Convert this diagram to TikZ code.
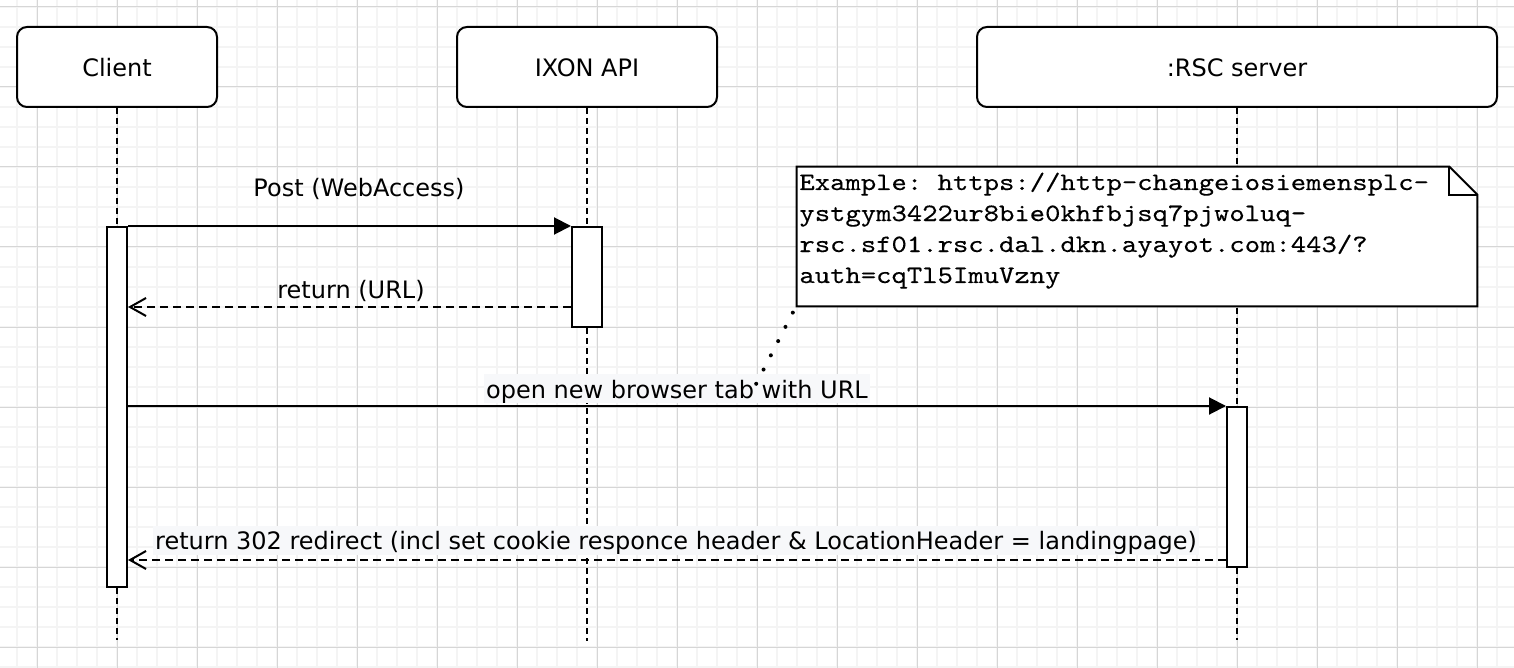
\documentclass[tikz,border=0pt]{standalone}
\usepackage{fontspec}
\setmainfont{DejaVu Sans}
\newfontfamily\notefont{lmmono10-regular.otf}[FakeStretch=1.17,FakeBold=0.25]
\usetikzlibrary{arrows.meta}
\definecolor{gridminor}{HTML}{F4F4F4}
\definecolor{gridmajor}{HTML}{D6D6D6}
\definecolor{lblbg}{HTML}{F7F8FA}
\tikzset{
  participant/.style={draw, line width=1pt, rounded corners=5pt, fill=white, minimum height=40pt, inner sep=0pt, text height=11pt, text depth=1.5pt},
  actbox/.style={draw, line width=1pt, fill=white, inner sep=0pt},
  lifeline/.style={line width=1pt, dash pattern=on 3pt off 2pt},
  msg/.style={line width=1pt, -{Triangle[length=8.5pt,width=8.5pt]}},
  retmsg/.style={line width=1pt, dash pattern=on 4pt off 2.5pt, -{Straight Barb[length=8pt,width=9pt,line width=1pt]}},
  lbl/.style={inner sep=1pt, text height=11pt, text depth=1.5pt},
  bglbl/.style={lbl, fill=lblbg},
  notetext/.style={anchor=base west, inner sep=0pt, font=\notefont\fontsize{12.5}{15}\selectfont\frenchspacing},
  dotlink/.style={line width=2pt, line cap=round, dash pattern=on 0pt off 8pt, dash phase=4.5pt}
}
\begin{document}
\begin{tikzpicture}[x=0.5pt, y=-0.5pt, font=\fontsize{12}{14}\selectfont]
\useasboundingbox (0,0) rectangle (1514,668);
\fill[white] (0,0) rectangle (1514,668);
% grid
\foreach \x in {17,37,...,1513} \draw[gridminor, line width=1pt] (\x,0) -- (\x,668);
\foreach \y in {7,27,...,667} \draw[gridminor, line width=1pt] (0,\y) -- (1514,\y);
\foreach \x in {37,117,...,1477} \draw[gridmajor, line width=0.5pt] (\x,0) -- (\x,668);
\foreach \y in {7,87,...,647} \draw[gridmajor, line width=0.5pt] (0,\y) -- (1514,\y);

% participants
\node[participant, minimum width=100pt] (client) at (117,67) {Client};
\node[participant, minimum width=130pt] (ixon) at (587,67) {IXON API};
\node[participant, minimum width=260pt] (rsc) at (1237,67) {:RSC server};

% lifelines
\coordinate (clientend) at (117,640);
\coordinate (ixonend) at (587,641);
\coordinate (rscend) at (1237,640);
\draw[lifeline] (client.south) -- (clientend);
\draw[lifeline] (ixon.south) -- (ixonend);
\draw[lifeline] (rsc.south) -- (rscend);

% activations
\node[actbox, minimum width=10pt, minimum height=180pt] (cact) at (117,407) {};
\node[actbox, minimum width=15pt, minimum height=50pt] (iact) at (587,277) {};
\node[actbox, minimum width=10pt, minimum height=80pt] (ract) at (1237,487) {};

% messages
\draw[msg] (cact.north east) -- (iact.north west);
\node[lbl] (l1) at (359,187.5) {Post (WebAccess)};

\draw[retmsg] (iact.west |- 0,307) -- (cact.east |- 0,307);
\node[lbl] (l2) at (351,289) {return (URL)};

\draw[msg] (cact.east |- ract.north) -- (ract.north west);
\node[bglbl] (l3) at (677,388.5) {open new browser tab with URL};

\draw[retmsg] (ract.west |- 0,560) -- (cact.east |- 0,560);
\node[bglbl] (l4) at (676,540) {return 302 redirect (incl set cookie responce header \& LocationHeader = landingpage)};

% note
\node[minimum width=340pt, minimum height=69.5pt, inner sep=0pt] (note) at (1137,236.5) {};
\draw[line width=1pt, fill=white] (note.south west) -- (note.north west) -- ([xshift=-14pt]note.north east) -- ([yshift=-14pt]note.north east) -- (note.south east) -- cycle;
\draw[line width=1pt] ([xshift=-14pt]note.north east) -- ++(0,28) -- ++(28,0);
\node[notetext] (n1) at (799,190) {Example: https://http-changeiosiemensplc-};
\node[notetext] (n2) at (799,221) {ystgym3422ur8bie0khfbjsq7pjwoluq-};
\node[notetext] (n3) at (799,252) {rsc.sf01.rsc.dal.dkn.ayayot.com:443/?};
\node[notetext] (n4) at (799,283) {auth=cqTl5ImuVzny};

% dotted link from note to message
\coordinate (linkend) at (753,390);
\draw[dotlink] ([xshift=-0.3pt]note.south west) -- (linkend);
\end{tikzpicture}
\end{document}
